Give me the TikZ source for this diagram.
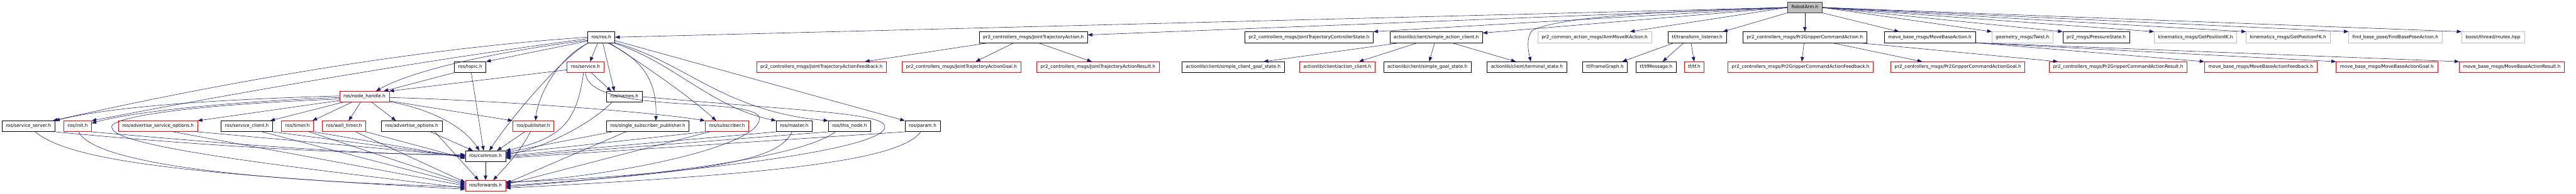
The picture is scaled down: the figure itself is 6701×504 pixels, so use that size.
\documentclass[tikz,border=0pt]{standalone}
\usepackage{fontspec}
\setmainfont{DejaVu Sans}
\usetikzlibrary{arrows.meta}

\definecolor{edgeblue}{HTML}{191970}
\definecolor{grey75}{HTML}{BFBFBF}

\tikzset{
  hdr/.style={draw=black,line width=1pt,inner xsep=10pt,inner ysep=0pt,
    minimum height=28pt,text height=8.6pt,text depth=2.6pt,
    font=\fontsize{11.8}{14}\selectfont},
  trunc/.style={hdr,draw=red},
  extern/.style={hdr,draw=grey75},
  incl/.style={draw=edgeblue,line width=0.9pt,-{Triangle[length=12pt,width=9pt]}}
}

\begin{document}
\begin{tikzpicture}[x=1pt,y=-1pt]
  \useasboundingbox (0,0) rectangle (6701,504);

  \node[hdr,fill=grey75,draw=black!75,minimum height=27pt] (robot) at (4695,19.5) {RobotArm.h};

  % first level
  \node[hdr] (ros) at (1564,97) {ros/ros.h};
  \node[hdr] (jta) at (2688,97) {pr2\_controllers\_msgs/JointTrajectoryAction.h};
  \node[hdr] (jtcs) at (3405,97) {pr2\_controllers\_msgs/JointTrajectoryControllerState.h};
  \node[hdr] (sac) at (3736,97) {actionlib/client/simple\_action\_client.h};
  \node[extern] (armik) at (4148,97) {pr2\_common\_action\_msgs/ArmMoveIKAction.h};
  \node[hdr] (tfl) at (4415,97) {tf/transform\_listener.h};
  \node[hdr] (grip) at (4695,97) {pr2\_controllers\_msgs/Pr2GripperCommandAction.h};
  \node[hdr] (mba) at (5020,97) {move\_base\_msgs/MoveBaseAction.h};
  \node[extern] (twist) at (5261,97) {geometry\_msgs/Twist.h};
  \node[hdr] (pres) at (5453,97) {pr2\_msgs/PressureState.h};
  \node[extern] (ik) at (5711,97) {kinematics\_msgs/GetPositionIK.h};
  \node[extern] (fk) at (5952,97) {kinematics\_msgs/GetPositionFK.h};
  \node[extern] (fbp) at (6231,97) {find\_base\_pose/FindBasePoseAction.h};
  \node[extern] (mutex) at (6485,97) {boost/thread/mutex.hpp};

  % second level
  \node[hdr] (topic) at (1223,175) {ros/topic.h};
  \node[trunc] (service) at (1523,175) {ros/service.h};
  \node[trunc] (jtaf) at (2137,175) {pr2\_controllers\_msgs/JointTrajectoryActionFeedback.h};
  \node[trunc] (jtag) at (2501,175) {pr2\_controllers\_msgs/JointTrajectoryActionGoal.h};
  \node[trunc] (jtar) at (2856,175) {pr2\_controllers\_msgs/JointTrajectoryActionResult.h};
  \node[hdr] (scgs) at (3208,175) {actionlib/client/simple\_client\_goal\_state.h};
  \node[trunc] (acl) at (3479,175) {actionlib/client/action\_client.h};
  \node[hdr] (sgs) at (3713,175) {actionlib/client/simple\_goal\_state.h};
  \node[hdr] (term) at (3972,175) {actionlib/client/terminal\_state.h};
  \node[hdr] (fg) at (4175,175) {tf/FrameGraph.h};
  \node[hdr] (tfm) at (4308,175) {tf/tfMessage.h};
  \node[trunc] (tf) at (4407,175) {tf/tf.h};
  \node[trunc] (gripf) at (4684,175) {pr2\_controllers\_msgs/Pr2GripperCommandActionFeedback.h};
  \node[trunc] (gripg) at (5093,175) {pr2\_controllers\_msgs/Pr2GripperCommandActionGoal.h};
  \node[trunc] (gripr) at (5510,175) {pr2\_controllers\_msgs/Pr2GripperCommandActionResult.h};
  \node[trunc] (mbaf) at (5881,175) {move\_base\_msgs/MoveBaseActionFeedback.h};
  \node[trunc] (mbag) at (6209,175) {move\_base\_msgs/MoveBaseActionGoal.h};
  \node[trunc] (mbar) at (6534,175) {move\_base\_msgs/MoveBaseActionResult.h};

  \node[trunc] (nh) at (948,252) {ros/node\_handle.h};
  \node[hdr] (names) at (1624,252) {ros/names.h};

  \node[hdr] (ss) at (74,329) {ros/service\_server.h};
  \node[trunc] (init) at (202,329) {ros/init.h};
  \node[trunc] (aso) at (411,329) {ros/advertise\_service\_options.h};
  \node[hdr] (sc) at (642,329) {ros/service\_client.h};
  \node[trunc] (timer) at (774,329) {ros/timer.h};
  \node[trunc] (wt) at (895,329) {ros/wall\_timer.h};
  \node[hdr] (ao) at (1071,329) {ros/advertise\_options.h};
  \node[trunc] (pub) at (1387,329) {ros/publisher.h};
  \node[hdr] (ssp) at (1685,329) {ros/single\_subscriber\_publisher.h};
  \node[trunc] (sub) at (1891,329) {ros/subscriber.h};
  \node[hdr] (master) at (2066,329) {ros/master.h};
  \node[hdr] (thisn) at (2210,329) {ros/this\_node.h};
  \node[hdr] (param) at (2400,329) {ros/param.h};

  \node[hdr] (common) at (1263,407) {ros/common.h};
  \node[trunc] (fwd) at (1263,484) {ros/forwards.h};

  % RobotArm.h
  \begin{scope}[incl]
    \draw (robot.west) -- (ros.east);
    \draw (robot.west) -- ([yshift=6]jta.east);
    \draw (robot.west) -- (jtcs.north east);
    \draw (robot.west) -- ([yshift=11]sac.east);
    \draw (robot.west) .. controls (4300,30) and (4050,45) .. (3985,80)
      .. controls (3970,100) and (3975,130) .. ([xshift=10]term.north);
    \draw (robot.west) -- ([xshift=92]armik.north);
    \draw (robot.south west) -- ([xshift=67]tfl.north);
    \draw (robot.south) -- (grip.north);
    \draw (robot.south east) -- ([xshift=-80]mba.north);
    \draw (robot.east) -- (twist.north west);
    \draw (robot.east) -- (pres.north west);
    \draw (robot.east) -- (ik.north west);
    \draw (robot.east) -- (fk.north west);
    \draw (robot.east) -- (fbp.north west);
    \draw (robot.east) -- (mutex.north west);
  \end{scope}

  \begin{scope}[incl]
    \draw ([xshift=-115]jta.south) -- ([xshift=113]jtaf.north);
    \draw ([xshift=-50]jta.south) -- ([xshift=37]jtag.north);
    \draw ([xshift=12]jta.south) -- ([xshift=-16]jtar.north);
    \draw ([xshift=-93]sac.south) -- ([xshift=79]scgs.north);
    \draw ([xshift=-48]sac.south) -- ([xshift=56]acl.north);
    \draw ([xshift=-4]sac.south) -- ([xshift=5]sgs.north);
    \draw ([xshift=40]sac.south) -- ([xshift=-29]term.north);
    \draw ([xshift=-60]tfl.south) -- ([xshift=45]fg.north);
    \draw ([xshift=-35]tfl.south) -- ([xshift=17]tfm.north);
    \draw ([xshift=-16]tfl.south) -- (tf.north);
    \draw ([xshift=-2]grip.south) -- ([xshift=3]gripf.north);
    \draw ([xshift=70]grip.south) -- ([xshift=-93]gripg.north);
    \draw ([xshift=138]grip.south) -- ([xshift=-157]gripr.north);
    \draw (mba.south east) -- (mbaf.north west);
    \draw (mba.south east) -- (mbag.north west);
    \draw (mba.south east) -- (mbar.north west);
  \end{scope}

  % ros/ros.h
  \begin{scope}[incl]
    \draw (ros.west) .. controls (1100,125) and (600,210) .. ([xshift=-6]ss.north east);
    \draw ([yshift=-4]ros.west) .. controls (1150,150) and (650,235) .. (init.north east);
    \draw ([yshift=-8]ros.west) .. controls (1250,140) and (1060,190) .. ([xshift=30]nh.north);
    \draw ([yshift=-10]ros.west) -- (topic.north east);
    \draw ([xshift=-9]ros.south) -- ([xshift=12]service.north);
    \draw ([xshift=4]ros.south) -- ([xshift=-26]names.north);
    \draw ([xshift=-34]ros.south) .. controls (1450,160) and (1320,320) .. ([xshift=10]common.north);
    \draw ([xshift=-32]ros.south) .. controls (1450,150) and (1400,250) .. ([xshift=6]pub.north);
    \draw ([xshift=16]ros.south) .. controls (1660,150) and (1710,200) .. ([xshift=21]ssp.north);
    \draw ([xshift=21]ros.south) .. controls (1660,160) and (1780,240) .. ([xshift=-28]sub.north);
    \draw ([xshift=31]ros.south) .. controls (1750,160) and (1850,280) .. (master.north west);
    \draw (ros.south east) .. controls (1780,160) and (1880,290) .. (thisn.north west);
    \draw ([yshift=-9]ros.east) -- (param.north west);
  \end{scope}

  \begin{scope}[incl]
    \draw (topic.south west) -- ([xshift=50]nh.north);
    \draw ([xshift=3]topic.south) -- ([xshift=-5]common.north);
    \draw ([yshift=-7]service.west) -- (nh.north east);
    \draw ([xshift=15]service.south) -- ([xshift=-34]names.north);
    \draw ([xshift=-5]service.south) .. controls (1500,320) and (1460,360) .. (common.north east);
    \draw (service.south) .. controls (1530,300) and (1950,250) .. (1975,305)
      .. controls (1990,380) and (1600,460) .. ([yshift=8]fwd.east);
    \draw ([xshift=-32]names.south) .. controls (1540,320) and (1420,385) .. ([yshift=4]common.east);
    \draw (names.east) .. controls (2100,290) and (2300,295) .. (2302,330)
      .. controls (2305,400) and (1600,470) .. ([yshift=10]fwd.east);
  \end{scope}

  % ros/node_handle.h
  \begin{scope}[incl]
    \draw ([yshift=2]nh.west) .. controls (600,258) and (300,275) .. (ss.north east);
    \draw ([yshift=-2]nh.west) .. controls (600,265) and (350,290) .. ([yshift=8]init.east);
    \draw ([yshift=-6]nh.west) .. controls (450,275) and (270,310) .. (292,335)
      .. controls (305,385) and (800,440) .. ([yshift=-6]fwd.west);
    \draw ([yshift=-10]nh.west) -- (aso.north east);
    \draw ([xshift=-56]nh.south) -- ([xshift=61]sc.north);
    \draw ([xshift=-33]nh.south) -- ([xshift=39]timer.north);
    \draw ([xshift=-10]nh.south) -- ([xshift=12]wt.north);
    \draw ([xshift=19]nh.south) -- ([xshift=-41]ao.north);
    \draw ([yshift=-11]nh.east) -- (pub.north west);
    \draw ([yshift=-13]nh.east) .. controls (1100,280) and (1200,320) .. ([xshift=-16]common.north);
    \draw ([yshift=-2]nh.east) .. controls (1300,262) and (1700,292) .. (sub.north west);
  \end{scope}

  % to ros/common.h and ros/forwards.h
  \begin{scope}[incl]
    \draw (ss.south east) .. controls (500,378) and (900,402) .. ([yshift=4]common.west);
    \draw ([xshift=18]ss.south) .. controls (180,420) and (500,455) .. ([yshift=-9]fwd.west);
    \draw (init.south east) .. controls (600,375) and (900,400) .. ([yshift=2]common.west);
    \draw ([xshift=3]init.south) .. controls (240,420) and (600,470) .. ([yshift=-3]fwd.west);
    \draw (aso.south east) -- (common.west);
    \draw ([xshift=40]aso.south) -- (fwd.west);
    \draw (sc.south east) -- ([yshift=-2]common.west);
    \draw ([xshift=40]sc.south) -- ([yshift=3]fwd.west);
    \draw (timer.south east) -- ([yshift=-4]common.west);
    \draw ([xshift=30]timer.south) -- ([yshift=6]fwd.west);
    \draw (wt.south east) -- ([yshift=-6]common.west);
    \draw ([xshift=30]wt.south) -- ([yshift=9]fwd.west);
    \draw ([xshift=49]ao.south) -- ([xshift=-33]common.north);
    \draw ([xshift=60]ao.south) -- ([xshift=-18]fwd.north);
    \draw ([xshift=-22]pub.south) -- ([xshift=30]common.north);
    \draw ([xshift=-7]pub.south) .. controls (1350,400) and (1310,440) .. ([xshift=20]fwd.north);
    \draw ([xshift=-93]ssp.south) -- ([yshift=10]common.east);
    \draw ([xshift=-57]ssp.south) -- ([yshift=6]fwd.east);
    \draw (sub.south west) -- ([yshift=7]common.east);
    \draw ([xshift=-45]sub.south) -- ([yshift=3]fwd.east);
    \draw (master.south west) -- ([yshift=1]common.east);
    \draw ([xshift=-6]master.south) .. controls (2030,410) and (1900,445) .. (fwd.east);
    \draw (thisn.south west) -- ([yshift=-2]common.east);
    \draw ([xshift=-37]thisn.south) .. controls (2100,400) and (1800,450) .. ([yshift=-3]fwd.east);
    \draw (param.south west) -- ([yshift=-5]common.east);
    \draw ([xshift=-5]param.south) .. controls (2340,420) and (2000,455) .. ([yshift=-6]fwd.east);
    \draw (common) -- (fwd);
  \end{scope}

\end{tikzpicture}
\end{document}
